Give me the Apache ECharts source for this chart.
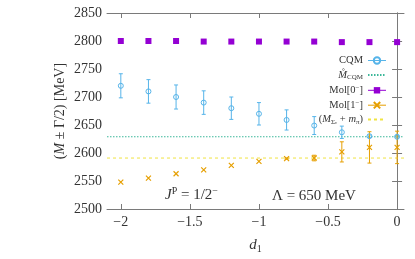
<!DOCTYPE html>
<html><head><meta charset="utf-8">
<script src="https://cdn.jsdelivr.net/npm/echarts@6/dist/echarts.min.js"></script>
<style>html,body{margin:0;padding:0;background:#fff}#c{width:415px;height:259px}</style>
</head><body><div id="c"></div>
<script>
// ---- data ----
const d1 = [-2, -1.8, -1.6, -1.4, -1.2, -1, -0.8, -0.6, -0.4, -0.2, 0];
const cqm = [2720, 2710, 2700, 2690, 2680, 2670, 2659, 2649, 2637, 2630, 2629];
const cqmErr = [21.5, 21, 21.5, 21, 20, 20, 18, 16, 11, 2, 2];
const mol0 = [2800, 2800, 2800, 2799, 2799, 2799, 2799, 2799, 2798, 2798, 2798];
const mol1 = [2548, 2555, 2563, 2570, 2578, 2585, 2590, 2591, 2602, 2610, 2610];
const mol1Err = [0, 0, 0, 0, 0, 0, 1, 5, 18, 28, 29];
const mCQM = 2629;
const threshold = 2591;
const xRange = [-2.1, 0.05];
const yRange = [2500, 2850];
const xTicks = [-2, -1.5, -1, -0.5, 0];

const FONT = 'Liberation Serif';
const TXT = '#333';
const AX = '#7a7a7a';
const C_CQM = '#56B4E9', C_MC = '#3cb89a', C_M0 = '#9400D3', C_M1 = '#E69F00', C_TH = '#F0E442';

const chart = echarts.init(document.getElementById('c'), null, {renderer: 'canvas'});

function pairs(xs, ys) { return xs.map((x, i) => [x, ys[i]]); }
function errSeries(color, xs, ys, es) {
  return {
    type: 'custom', silent: true, z: 2,
    encode: {x: 0, y: [1, 2]},
    data: xs.map((x, i) => [x, ys[i] - es[i], ys[i] + es[i]]),
    renderItem(params, api) {
      const x = api.value(0), lo = api.value(1), hi = api.value(2);
      if (hi - lo <= 0) return null;
      const a = api.coord([x, lo]), b = api.coord([x, hi]);
      const w = 2;
      const st = {stroke: color, lineWidth: 1};
      return {type: 'group', children: [
        {type: 'line', shape: {x1: a[0], y1: a[1], x2: b[0], y2: b[1]}, style: st},
        {type: 'line', shape: {x1: a[0] - w, y1: a[1], x2: a[0] + w, y2: a[1]}, style: st},
        {type: 'line', shape: {x1: b[0] - w, y1: b[1], x2: b[0] + w, y2: b[1]}, style: st}
      ]};
    }
  };
}
const minus = v => String(v).replace('-', '\u2212');
const tickStyle = {show: true, inside: true, length: 5, lineStyle: {color: AX}};
const axLine = {show: true, lineStyle: {color: AX, width: 1}};
const xSym = 'path://M0,0L10,10M10,0L0,10';

const legendText = {
  'CQM': 'CQM',
  'M_CQM': '{i|M\u030A}{sub|CQM}',
  'Mol0': 'Mol[0{sup|\u2212}]',
  'Mol1': 'Mol[1{sup|\u2212}]',
  'Thr': '({i|M}{sub|\u03A3}{sub2|c} + {i|m}{sub|\u03C0})'
};
const legRich = {
  i: {fontFamily: FONT, fontStyle: 'italic', fontSize: 10.5, color: TXT},
  sub: {fontFamily: FONT, fontSize: 7, color: TXT, verticalAlign: 'bottom', padding: [5, 0, 0, 0]},
  sub2: {fontFamily: FONT, fontSize: 5, color: TXT, verticalAlign: 'bottom', padding: [7, 0, 0, 0]},
  sup: {fontFamily: FONT, fontSize: 7, color: TXT, verticalAlign: 'top', padding: [0, 0, 5, 0]}
};

const option = {
  animation: false,
  backgroundColor: '#fff',
  grid: {left: 107, right: 11, top: 13, bottom: 48, containLabel: false},
  xAxis: [{
    type: 'value', min: xRange[0], max: xRange[1],
    name: '{i|d}{s|1}', nameLocation: 'middle', nameGap: 27, nameMoveOverlap: false,
    nameTextStyle: {fontFamily: FONT, fontSize: 15, color: TXT,
      rich: {i: {fontFamily: FONT, fontStyle: 'italic', fontSize: 15, color: TXT},
             s: {fontFamily: FONT, fontSize: 10, color: TXT, verticalAlign: 'bottom', padding: [8, 0, 0, 0]}}},
    axisLine: axLine,
    axisTick: Object.assign({customValues: xTicks}, tickStyle),
    axisLabel: {customValues: xTicks, formatter: minus, fontFamily: FONT, fontSize: 14, color: TXT, margin: 6},
    splitLine: {show: false}
  }, {
    type: 'value', position: 'top', min: xRange[0], max: xRange[1],
    axisLine: axLine,
    axisTick: Object.assign({customValues: xTicks}, tickStyle),
    axisLabel: {show: false, customValues: xTicks},
    splitLine: {show: false}
  }],
  yAxis: [{
    type: 'value', min: yRange[0], max: yRange[1], interval: 50,
    name: '({i|M} \u00B1 \u0393/2) [MeV]', nameLocation: 'middle', nameGap: 40, nameMoveOverlap: false,
    nameTextStyle: {fontFamily: FONT, fontSize: 14, color: TXT,
      rich: {i: {fontFamily: FONT, fontStyle: 'italic', fontSize: 14, color: TXT}}},
    axisLine: axLine, axisTick: tickStyle,
    axisLabel: {formatter: v => String(v), fontFamily: FONT, fontSize: 14, color: TXT, margin: 5},
    splitLine: {show: false}
  }, {
    type: 'value', position: 'right', min: yRange[0], max: yRange[1], interval: 50,
    axisLine: axLine, axisTick: tickStyle,
    axisLabel: {show: false}, splitLine: {show: false}
  }],
  legend: {
    orient: 'vertical', right: 28, top: 55, align: 'right',
    itemWidth: 18, itemHeight: 8, itemGap: 3.4, padding: 0,
    textStyle: {fontFamily: FONT, fontSize: 10.5, color: TXT, rich: legRich},
    formatter: n => legendText[n],
    data: [
      {name: 'CQM', lineStyle: {width: 1, opacity: 1, color: C_CQM}},
      {name: 'M_CQM', itemStyle: {opacity: 0}},
      {name: 'Mol0', lineStyle: {width: 1, opacity: 1, color: C_M0}},
      {name: 'Mol1', lineStyle: {width: 1, opacity: 1, color: C_M1}},
      {name: 'Thr', itemStyle: {opacity: 0}}
    ]
  },
  graphic: [
    {type: 'text', left: 165, top: 186, style: {
      text: '{i|J}{sup|P} = 1/2{sup|\u2212}',
      fontFamily: FONT, fontSize: 15, fill: TXT,
      rich: {i: {fontFamily: FONT, fontStyle: 'italic', fontSize: 15, color: TXT},
             sup: {fontFamily: FONT, fontSize: 10, color: TXT, verticalAlign: 'top', padding: [0, 0, 8, 0]}}
    }},
    {type: 'text', left: 272, top: 189, style: {
      text: '\u039B = 650 MeV', fontFamily: FONT, fontSize: 15, fill: TXT
    }}
  ],
  series: [
    errSeries(C_CQM, d1, cqm, cqmErr),
    errSeries(C_M1, d1, mol1, mol1Err),
    {name: 'M_CQM', type: 'line', symbol: 'none', z: 1,
      data: pairs(xRange, [mCQM, mCQM]),
      lineStyle: {color: C_MC, width: 1.2, type: [1.5, 1.5]}, itemStyle: {color: C_MC}},
    {name: 'Thr', type: 'line', symbol: 'none', z: 1,
      data: pairs(xRange, [threshold, threshold]),
      lineStyle: {color: C_TH, width: 1, type: [3, 3]}, itemStyle: {color: C_TH}},
    {name: 'CQM', type: 'line', z: 3, data: pairs(d1, cqm),
      symbol: 'circle', symbolSize: 5, showAllSymbol: true,
      itemStyle: {color: 'rgba(255,255,255,0)', borderColor: C_CQM, borderWidth: 1},
      lineStyle: {width: 0, opacity: 0, color: C_CQM}},
    {name: 'Mol0', type: 'line', z: 3, data: pairs(d1, mol0),
      symbol: 'rect', symbolSize: 6, showAllSymbol: true,
      itemStyle: {color: C_M0},
      lineStyle: {width: 0, opacity: 0, color: C_M0}},
    {name: 'Mol1', type: 'line', z: 3, data: pairs(d1, mol1),
      symbol: xSym, symbolSize: 5, showAllSymbol: true,
      itemStyle: {color: C_M1, borderColor: C_M1, borderWidth: 1.2},
      lineStyle: {width: 0, opacity: 0, color: C_M1}}
  ]
};
chart.setOption(option);
</script>
</body></html>
